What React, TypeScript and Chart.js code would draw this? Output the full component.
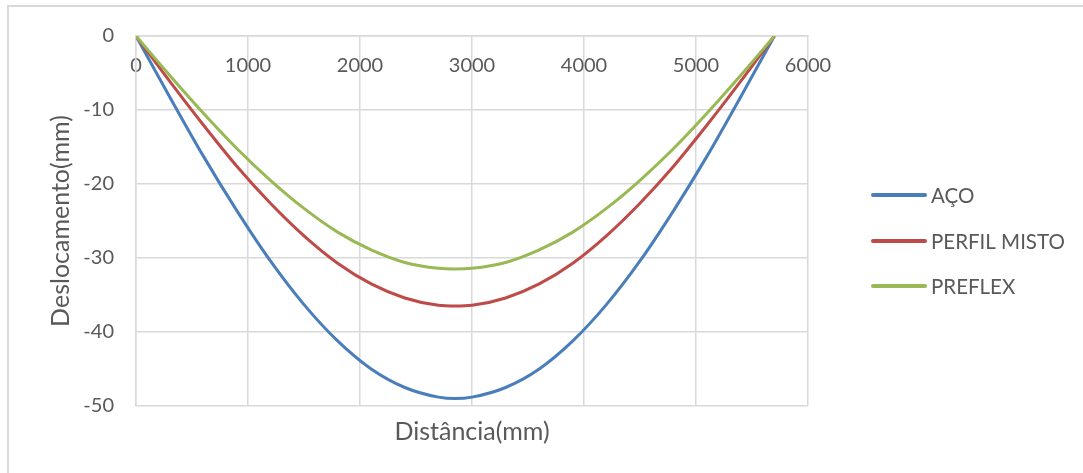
import React, { useEffect, useRef } from "react";
import { Chart, registerables } from "chart.js";

Chart.register(...registerables);

const distance = [0, 300, 600, 900, 1200, 1500, 1800, 2100, 2400, 2700, 2850, 3000, 3300, 3600, 3900, 4200, 4500, 4800, 5100, 5400, 5700];
const aco = [0, -8.2, -16.2, -23.6, -30.4, -36.3, -41.2, -45.0, -47.5, -48.8, -49.0, -48.8, -47.5, -45.0, -41.2, -36.3, -30.4, -23.6, -16.2, -8.2, 0];
const perfilMisto = [0, -6.1, -12.0, -17.6, -22.6, -27.0, -30.7, -33.5, -35.4, -36.4, -36.5, -36.4, -35.4, -33.5, -30.7, -27.0, -22.6, -17.6, -12.0, -6.1, 0];
const preflex = [0, -5.3, -10.4, -15.2, -19.5, -23.3, -26.5, -28.9, -30.6, -31.4, -31.5, -31.4, -30.6, -28.9, -26.5, -23.3, -19.5, -15.2, -10.4, -5.3, 0];

const seriesNames = ["AÇO", "PERFIL MISTO", "PREFLEX"];
const seriesColors = ["#4A7EBB", "#BE4B48", "#98B954"];
const xTitle = "Distância(mm)";
const yTitle = "Deslocamento(mm)";

const FONT = "Lato, 'Open Sans', sans-serif";
const TEXT = "#595959";
const GRID = "#d9d9d9";

export default function App() {
  const ref = useRef<HTMLCanvasElement | null>(null);

  useEffect(() => {
    if (!ref.current) return;
    const toPts = (arr: number[]) => arr.map((v, i) => ({ x: distance[i], y: v }));
    const seriesData = [aco, perfilMisto, preflex];

    const overlay = {
      id: "overlay",
      afterDraw(chart: any) {
        const ctx = chart.ctx;
        const ca = chart.chartArea;
        ctx.save();
        ctx.fillStyle = TEXT;
        ctx.font = `25px ${FONT}`;
        ctx.textAlign = "center";
        ctx.textBaseline = "middle";
        ctx.fillText(xTitle, (ca.left + ca.right) / 2, 432);
        ctx.save();
        ctx.translate(61, (ca.top + ca.bottom) / 2);
        ctx.rotate(-Math.PI / 2);
        ctx.fillText(yTitle, 0, 0);
        ctx.restore();
        // legend
        const ys = [195, 241, 286];
        ctx.textAlign = "left";
        ctx.font = `20.5px ${FONT}`;
        seriesNames.forEach((name, i) => {
          ctx.beginPath();
          ctx.strokeStyle = seriesColors[i];
          ctx.lineWidth = 4;
          ctx.lineCap = "round";
          ctx.moveTo(873, ys[i]);
          ctx.lineTo(925, ys[i]);
          ctx.stroke();
          ctx.fillStyle = TEXT;
          ctx.fillText(name, 931, ys[i] + 1);
        });
        ctx.restore();
      },
    };

    const chart = new Chart(ref.current, {
      type: "line",
      data: {
        datasets: seriesNames.map((name, i) => ({
          label: name,
          data: toPts(seriesData[i]),
          borderColor: seriesColors[i],
          backgroundColor: seriesColors[i],
          borderWidth: 3,
          pointRadius: 0,
          cubicInterpolationMode: "monotone" as const,
          fill: false,
          order: 2 - i,
        })),
      },
      options: {
        responsive: false,
        animation: false,
        layout: { padding: { top: 36, bottom: 67, right: 275, left: 0 } },
        plugins: { legend: { display: false }, tooltip: { enabled: false } },
        scales: {
          x: {
            type: "linear",
            position: { y: 0 } as any,
            min: 0,
            max: 6000,
            ticks: {
              stepSize: 1000,
              autoSkip: false,
              maxRotation: 0,
              padding: 18,
              color: TEXT,
              font: { family: FONT, size: 20 },
              callback: (v: any) => String(v),
            },
            grid: { color: GRID, lineWidth: 1.5, drawTicks: false },
            border: { color: GRID, width: 1.5 },
          },
          y: {
            type: "linear",
            position: "left",
            min: -50,
            max: 0,
            afterFit: (scale: any) => {
              scale.width = 136;
            },
            ticks: {
              stepSize: 10,
              padding: 22,
              color: TEXT,
              font: { family: FONT, size: 20 },
              callback: (v: any) => String(v),
            },
            grid: { color: GRID, lineWidth: 1.5, drawTicks: false },
            border: { color: GRID, width: 1.5 },
          },
        },
      },
      plugins: [overlay],
    });
    return () => chart.destroy();
  }, []);

  return (
    <div style={{ position: "fixed", left: 0, top: 0, width: 1083, height: 473, background: "#fff", overflow: "hidden" }}>
      <div
        style={{
          position: "absolute",
          left: 7,
          top: 5,
          width: 1090,
          height: 480,
          borderTop: `2px solid ${GRID}`,
          borderLeft: `2px solid ${GRID}`,
        }}
      />
      <canvas ref={ref} width={1083} height={473} style={{ position: "absolute", left: 0, top: 0, width: 1083, height: 473 }} />
    </div>
  );
}
